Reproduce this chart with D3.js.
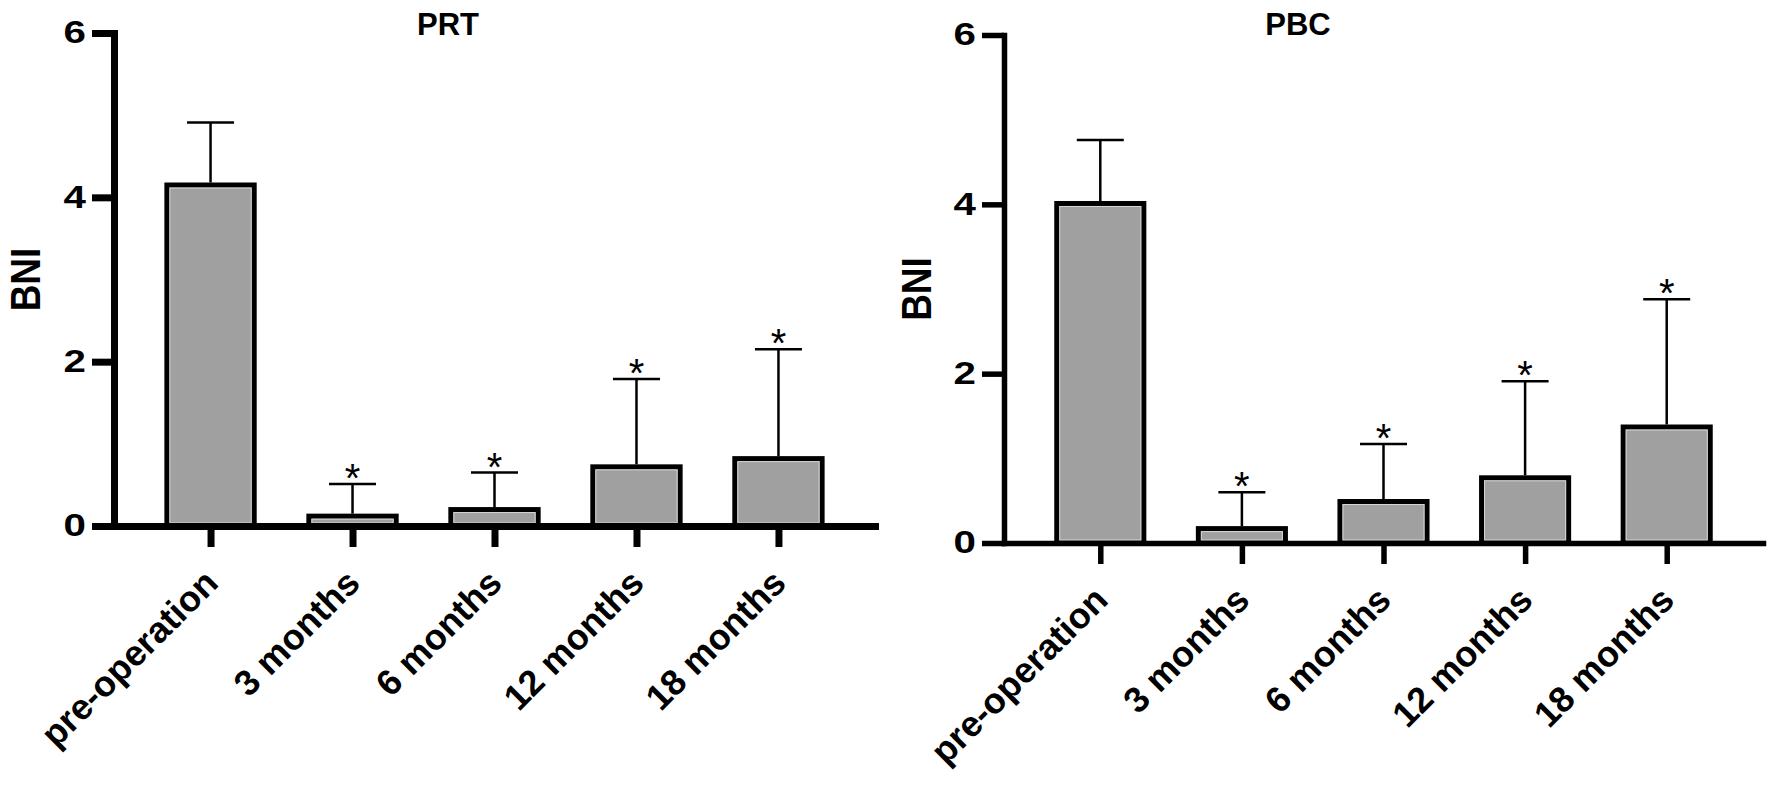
<!DOCTYPE html>
<html>
<head>
<meta charset="utf-8">
<script src="https://cdn.jsdelivr.net/npm/d3@7"></script>
<style>
  body { margin: 0; background: #fff; }
  svg { display: block; font-family: "Liberation Sans", Arial, sans-serif; }
</style>
</head>
<body>
<div id="wrapper"></div>
<script>
const categories = ["pre-operation", "3 months", "6 months", "12 months", "18 months"]
const prtMean = [4.15, 0.12, 0.2, 0.72, 0.82]
const prtSD = [0.76, 0.39, 0.45, 1.07, 1.33]
const pbcMean = [4.01, 0.17, 0.49, 0.77, 1.37]
const pbcSD = [0.75, 0.43, 0.68, 1.14, 1.51]
const significance = ["", "*", "*", "*", "*"]
const yTicks = [0, 2, 4, 6]

const width = 1772
const height = 789

const wrapper = d3.select("#wrapper")
  .append("svg")
    .attr("width", width)
    .attr("height", height)

const panels = [
  {
    title: "PRT", titleX: 448, titleY: 35,
    mean: prtMean, sd: prtSD,
    xRange: [114, 875], yRange: [526, 33],
    axisW: 7, labelX: 25
  },
  {
    title: "PBC", titleX: 1298, titleY: 35,
    mean: pbcMean, sd: pbcSD,
    xRange: [1004, 1763], yRange: [543, 35],
    axisW: 5.5, labelX: 916
  }
]

function drawPanel(p) {
  const dataset = categories.map((c, i) => ({
    cat: c, mean: p.mean[i], sd: p.sd[i], sig: significance[i]
  }))

  const xScale = d3.scalePoint()
    .domain(categories)
    .range(p.xRange)
    .padding(0.68)

  const yScale = d3.scaleLinear()
    .domain([0, 6])
    .range(p.yRange)

  const bounds = wrapper.append("g")
  const barWidth = xScale.step() * 0.615
  const capHalf = 23.5

  // bars
  const bars = bounds.selectAll(".bar")
    .data(dataset)
    .enter().append("g")
      .attr("class", "bar")

  bars.append("rect")
    .attr("x", d => xScale(d.cat) - barWidth / 2)
    .attr("y", d => yScale(d.mean))
    .attr("width", barWidth)
    .attr("height", d => yScale(0) - yScale(d.mean))
    .attr("fill", "#a0a0a0")
    .attr("stroke", "#000")
    .attr("stroke-width", 5)

  // light inner edge like the original print
  bars.filter(d => yScale(0) - yScale(d.mean) > 8)
    .append("rect")
      .attr("x", d => xScale(d.cat) - barWidth / 2 + 3)
      .attr("y", d => yScale(d.mean) + 3)
      .attr("width", barWidth - 6)
      .attr("height", d => yScale(0) - yScale(d.mean) - 6)
      .attr("fill", "none")
      .attr("stroke", "#d6d6d6")
      .attr("stroke-width", 1)

  // error bars (upper SD only)
  bars.append("line")
    .attr("x1", d => xScale(d.cat))
    .attr("x2", d => xScale(d.cat))
    .attr("y1", d => yScale(d.mean) - 2.5)
    .attr("y2", d => yScale(d.mean + d.sd))
    .attr("stroke", "#000")
    .attr("stroke-width", 2.5)

  bars.append("line")
    .attr("x1", d => xScale(d.cat) - capHalf)
    .attr("x2", d => xScale(d.cat) + capHalf)
    .attr("y1", d => yScale(d.mean + d.sd))
    .attr("y2", d => yScale(d.mean + d.sd))
    .attr("stroke", "#000")
    .attr("stroke-width", 2.5)

  bars.append("text")
    .attr("x", d => xScale(d.cat))
    .attr("y", d => yScale(d.mean + d.sd) + 8)
    .attr("text-anchor", "middle")
    .attr("font-size", 40)
    .text(d => d.sig)

  // y axis
  const yAxis = bounds.append("g")
    .attr("transform", `translate(${p.xRange[0]},0)`)
    .call(d3.axisLeft(yScale)
      .tickValues(yTicks)
      .tickSize(22)
      .tickSizeOuter(0)
      .tickPadding(6)
      .tickFormat(d3.format("d")))
    .attr("font-family", null)

  yAxis.select(".domain")
    .attr("stroke-width", p.axisW)
    .attr("stroke-linecap", "square")
  yAxis.selectAll(".tick line")
    .attr("stroke-width", p.axisW)
  // the original digits are set wide, so stretch them a little
  yAxis.selectAll(".tick text")
    .attr("x", 0)
    .attr("transform", "translate(-28,0) scale(1.3,1)")
    .attr("font-size", 31)
    .attr("font-weight", "bold")
    .attr("fill", "#000")

  // x axis
  const xAxis = bounds.append("g")
    .attr("transform", `translate(0,${p.yRange[0]})`)
    .call(d3.axisBottom(xScale)
      .tickSize(21)
      .tickSizeOuter(0))
    .attr("font-family", null)

  xAxis.select(".domain")
    .attr("stroke-width", p.axisW)
    .attr("stroke-linecap", "square")
  xAxis.selectAll(".tick line")
    .attr("stroke-width", p.axisW)
  xAxis.selectAll(".tick text")
    .attr("y", 0)
    .attr("dy", 0)
    .attr("text-anchor", "end")
    .attr("transform", "translate(9,59) rotate(-45)")
    .attr("font-size", 36)
    .attr("font-weight", "bold")
    .attr("fill", "#000")

  // axis label
  const midY = (p.yRange[0] + p.yRange[1]) / 2
  bounds.append("text")
    .attr("transform", `translate(${p.labelX},${midY}) scale(1.15,1) rotate(-90)`)
    .attr("text-anchor", "middle")
    .attr("dy", "0.36em")
    .attr("font-size", 37)
    .attr("font-weight", "bold")
    .text("BNI")

  // title
  bounds.append("text")
    .attr("x", p.titleX)
    .attr("y", p.titleY)
    .attr("text-anchor", "middle")
    .attr("font-size", 31)
    .attr("font-weight", "bold")
    .text(p.title)
}

panels.forEach(drawPanel)
</script>
</body>
</html>
